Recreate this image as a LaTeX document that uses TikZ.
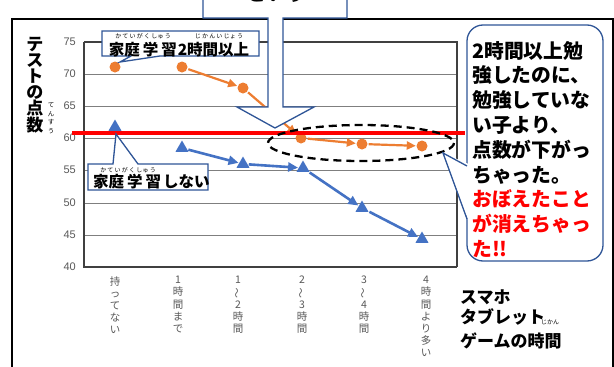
\documentclass[tikz,border=0pt]{standalone}
\usepackage{fontspec}
\usepackage{graphicx}
\setmainfont{Noto Sans CJK JP}
\newfontfamily\numfont{Liberation Sans}
\usetikzlibrary{arrows.meta,shapes.geometric}
\definecolor{orng}{HTML}{ED7D31}
\definecolor{blu}{HTML}{4472C4}
\definecolor{cbd}{HTML}{2F5597}
\definecolor{gridc}{HTML}{7F7F7F}
\definecolor{tickc}{HTML}{595959}
\definecolor{redl}{HTML}{FF0000}
\begin{document}
\begin{tikzpicture}[x=1pt,y=-1pt,
  gridline/.style={gridc, line width=0.8pt},
  plotframe/.style={draw=black!75, line width=1.1pt},
  axisl/.style={draw=black!75, line width=1.8pt},
  oline/.style={orng, line width=2.2pt, -{Triangle[length=9pt,width=8pt]}, shorten >=0.5pt, shorten <=1pt},
  bline/.style={blu, line width=2.6pt, -{Triangle[length=10pt,width=9pt]}, shorten >=0.5pt, shorten <=1pt},
  omark/.style={circle, fill=orng, inner sep=0pt, minimum size=11pt},
  bmark/.style={regular polygon, regular polygon sides=3, fill=blu, inner sep=0pt, minimum size=15pt},
  ticklab/.style={anchor=east, text=tickc, font=\numfont\fontsize{11}{11}\selectfont, inner sep=0pt},
  xlab/.style={anchor=north, text=tickc, align=center, font=\fontsize{10.5}{12.2}\selectfont, inner sep=0pt},
  callbox/.style={draw=cbd, fill=white, line width=1.3pt, line join=miter},
  furi/.style={inner sep=0pt, font=\fontsize{6}{6}\selectfont},
  legtext/.style={inner sep=0pt, font=\fontsize{15.5}{15.5}\selectfont\bfseries},
  bigtext/.style={inner sep=0pt, anchor=north west, align=left, font=\fontsize{19.8}{24.8}\selectfont\bfseries},
  axtitle/.style={inner sep=0pt, anchor=west, font=\fontsize{17}{17}\selectfont\bfseries}
]
\useasboundingbox (0,0) rectangle (614,367);
\fill[white] (0,0) rectangle (614,367);

% outer frame
\draw[black, line width=1.4pt] (12,19) rectangle (613,380);

% grid
\foreach \v/\yy in {70/74,65/106,60/138,55/170,50/203,45/235}
  \draw[gridline] (84,\yy) -- (457,\yy);
\draw[plotframe] (84,42) -- (457,42) -- (457,267);
\draw[axisl] (84,42) -- (84,267) -- (457,267);

% tick labels
\node[ticklab] (t75) at (76,42) {75};
\node[ticklab] (t70) at (76,74) {70};
\node[ticklab] (t65) at (76,106) {65};
\node[ticklab] (t60) at (76,138) {60};
\node[ticklab] (t55) at (76,170) {55};
\node[ticklab] (t50) at (76,203) {50};
\node[ticklab] (t45) at (76,235) {45};
\node[ticklab] (t40) at (76,267) {40};

% x labels
\node[xlab] (x1) at (115,276) {持\\っ\\て\\な\\い};
\node[xlab] (x2) at (178,276) {1\\時\\間\\ま\\で};
\node[xlab] (x3) at (238,276) {1\\\rotatebox[origin=c]{90}{～}\\2\\時\\間};
\node[xlab] (x4) at (302,276) {2\\\rotatebox[origin=c]{90}{～}\\3\\時\\間};
\node[xlab] (x5) at (364,276) {3\\\rotatebox[origin=c]{90}{～}\\4\\時\\間};
\node[xlab] (x6) at (426,276) {4\\時\\間\\よ\\り\\多\\い};

% y axis title
\node[inner sep=0pt, anchor=north, align=center, font=\fontsize{17}{16}\selectfont\bfseries] (ytitle) at (35,37) {テ\\ス\\ト\\の\\点\\数};
\node[inner sep=0pt, anchor=north, align=center, font=\fontsize{6.5}{8.4}\selectfont] (yfuri) at (51,103) {て\\ん\\す\\う};

% data markers
\node[omark] (o1) at (115,67) {};
\node[omark] (o2) at (182,67) {};
\node[omark] (o3) at (243,88) {};
\node[omark] (o4) at (301,138) {};
\node[omark] (o5) at (362,144) {};
\node[omark] (o6) at (422,146) {};
\node[bmark] (b1) at (115,127) {};
\node[bmark] (b2) at (182,148) {};
\node[bmark] (b3) at (243,164) {};
\node[bmark] (b4) at (303,168) {};
\node[bmark] (b5) at (362,208) {};
\node[bmark] (b6) at (422,239) {};

\draw[oline] (o2) -- (o3);
\draw[oline] (o3) -- (o4);
\draw[oline] (o4) -- (o5);
\draw[oline] (o5) -- (o6);
\draw[bline] (b2) -- (b3);
\draw[bline] (b3) -- (b4);
\draw[bline] (b4) -- (b5);
\draw[bline] (b5) -- (b6);

% red line
\draw[redl, line width=3.6pt] (72,133) -- (465,133);

% legend box: 2 hours or more
\draw[callbox] (102,31) -- (259,31) -- (259,56) -- (160,56) -- (120,62) -- (131,56) -- (102,56) -- cycle;
\node[legtext] (leg1) at (179,50) {家庭\hspace{3pt}学\hspace{3pt}習\hspace{1pt}2時間以上};
\node[furi] (leg1f1) at (143,36.5) {か\hspace{1.2pt}て\hspace{1.2pt}い\hspace{1.2pt}が\hspace{1.2pt}く\hspace{1.2pt}し\hspace{0.3pt}ゅ\hspace{1.2pt}う};
\node[furi] (leg1f2) at (219,36.5) {じ\hspace{1.2pt}か\hspace{1.2pt}ん\hspace{1.2pt}い\hspace{1.2pt}じ\hspace{0.3pt}ょ\hspace{1.2pt}う};

% legend box: no study
\draw[callbox] (88,164) -- (113,164) -- (116,134) -- (138,164) -- (208,164) -- (208,190) -- (88,190) -- cycle;
\node[legtext, anchor=west] (leg2) at (93,182) {家庭\hspace{3pt}学\hspace{3pt}習\hspace{2pt}しない};
\node[furi] (leg2f) at (128,170.5) {か\hspace{1.2pt}て\hspace{1.2pt}い\hspace{1.2pt}が\hspace{1.2pt}く\hspace{1.2pt}し\hspace{0.3pt}ゅ\hspace{1.2pt}う};

% top arrow callout
\draw[callbox] (203,-5) -- (203,18) -- (268,18) -- (268,107) -- (237,107) -- (275,128) -- (314,107) -- (283,107) -- (283,18) -- (347,18) -- (347,-5);
\node[inner sep=0pt, font=\fontsize{20}{20}\selectfont] (toptext) at (276,-6) {という};

% dashed ellipse
\draw[black, line width=2.3pt, dash pattern=on 8pt off 5pt] (361,143) ellipse [x radius=93, y radius=18];

% right callout
\draw[cbd, fill=white, line width=1.3pt, rounded corners=16pt] (467,25) rectangle (603,261);
\fill[white] (443,153) -- (468.5,164) -- (468.5,221) -- cycle;
\draw[cbd, line width=1.3pt, line join=miter] (467,166) -- (443,153) -- (467,219);
\node[bigtext] (note) at (472,41) {2時間以上勉\\強したのに、\\勉強していな\\い子より、\\点数が下がっ\\ちゃった。\\\textcolor{redl}{おぼえたこと}\\\textcolor{redl}{が消えちゃっ}\\\textcolor{redl}{た!!}};

% bottom right axis label
\node[axtitle] (xt1) at (460,297) {スマホ};
\node[axtitle] (xt2) at (460,317) {タブレット};
\node[axtitle] (xt3) at (460,341) {ゲームの時間};
\node[furi] (xt3f) at (550,322.5) {じかん};
\end{tikzpicture}
\end{document}
